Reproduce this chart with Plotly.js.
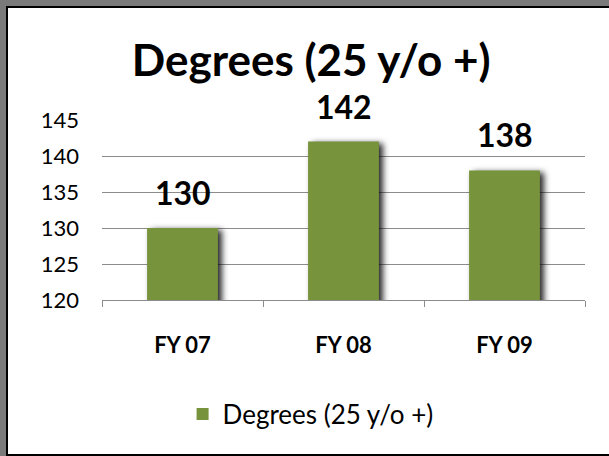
<!DOCTYPE html>
<html>
<head>
<meta charset="utf-8">
<script src="https://cdn.plot.ly/plotly-3.0.1.min.js"></script>
<style>
html, body { margin:0; padding:0; background:#fff; }
#wrap { position:relative; width:609px; height:456px; overflow:hidden; }
#chart { position:absolute; left:0; top:0; width:609px; height:456px; }
.frame { position:absolute; z-index:5; }
.bars .point path { filter: drop-shadow(4px 2px 3px rgba(0,0,0,0.85)); }
</style>
</head>
<body>
<div id="wrap">
  <div id="chart"></div>
  <div class="frame" style="left:0;top:0;width:6px;height:456px;background:#7a7a7a"></div>
  <div class="frame" style="left:0;top:0;width:609px;height:6px;background:#7a7a7a"></div>
  <div class="frame" style="left:6px;top:6px;width:2px;height:450px;background:#000"></div>
  <div class="frame" style="left:6px;top:6px;width:603px;height:2px;background:#000"></div>
  <div class="frame" style="left:6px;top:454px;width:603px;height:2px;background:#000"></div>
</div>
<script>
const categories = ["FY 07", "FY 08", "FY 09"];
const values = [130, 142, 138];
const seriesName = "Degrees (25 y/o +)";
const chartTitle = "Degrees (25 y/o +)";
const yTicks = [120, 125, 130, 135, 140, 145];

const FONT = "Lato, 'Open Sans', sans-serif";
const GREEN = "#77933C";
const GRID = "#8c8c8c";

const trace = {
  type: "bar",
  x: categories,
  y: values,
  name: seriesName,
  marker: { color: GREEN, line: { width: 0 } },
  width: 0.44,
  showlegend: true,
  hoverinfo: "none"
};

const annotations = categories.map((c, i) => ({
  x: c, y: values[i], xref: "x", yref: "y",
  text: "<b>" + values[i] + "</b>",
  showarrow: false, yanchor: "bottom", yshift: 14,
  font: { family: FONT, size: 32, color: "#000" }
}));

const layout = {
  width: 609, height: 456,
  margin: { l: 102, r: 24, t: 120, b: 156 },
  paper_bgcolor: "#fff", plot_bgcolor: "#fff",
  title: {
    text: "<b>" + chartTitle + "</b>",
    font: { family: FONT, size: 44, color: "#000" },
    x: 0.511, xanchor: "center", xref: "container",
    y: 1 - 61/456, yanchor: "middle", yref: "container"
  },
  xaxis: {
    type: "category",
    showline: true, linecolor: GRID, linewidth: 1,
    ticks: "outside", tickson: "boundaries", ticklen: 6, tickcolor: GRID,
    tickfont: { family: FONT, size: 22, color: "#000", weight: "bold" },
    ticklabelstandoff: 26,
    showgrid: false, zeroline: false
  },
  yaxis: {
    range: [120, 145],
    tickvals: yTicks,
    showgrid: true, gridcolor: GRID, gridwidth: 1,
    showline: false, zeroline: false, ticks: "",
    tickfont: { family: FONT, size: 22, color: "#000" },
    ticklabelstandoff: 22
  },
  showlegend: true,
  legend: {
    orientation: "h",
    x: 0.51, xanchor: "center", xref: "container",
    y: 1 - 414/456, yanchor: "middle", yref: "container",
    font: { family: FONT, size: 26, color: "#000" },
    bgcolor: "rgba(0,0,0,0)"
  },
  annotations: annotations,
  bargap: 0.56
};

Plotly.newPlot("chart", [trace], layout, { displayModeBar: false, staticPlot: true });
</script>
</body>
</html>
